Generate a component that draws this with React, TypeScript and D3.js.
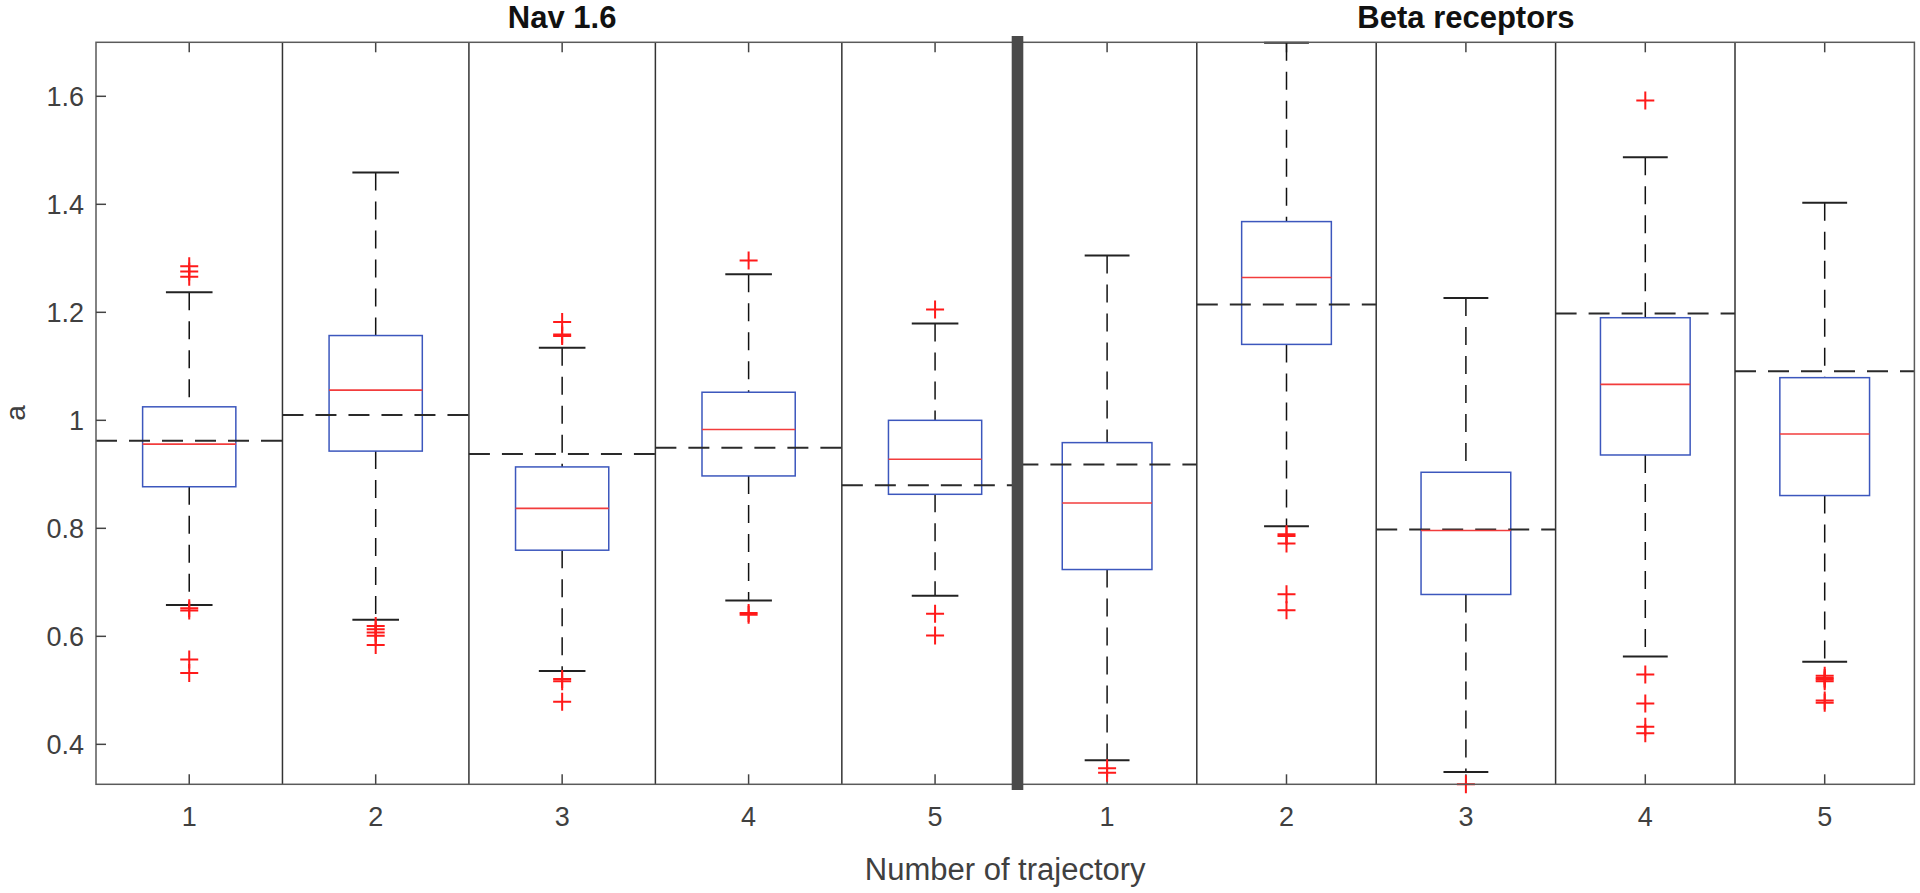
import React from "react";
import * as d3 from "d3";

const categories = ["1", "2", "3", "4", "5"];
const yTicks = [0.4, 0.6, 0.8, 1.0, 1.2, 1.4, 1.6];
const yTickLabels = ["0.4", "0.6", "0.8", "1", "1.2", "1.4", "1.6"];

// Nav 1.6
const navQ1 = [0.877, 0.943, 0.7595, 0.897, 0.863];
const navMedian = [0.956, 1.056, 0.837, 0.983, 0.928];
const navQ3 = [1.025, 1.157, 0.9137, 1.052, 1.0];
const navWhiskerLow = [0.658, 0.6306, 0.5356, 0.6664, 0.675];
const navWhiskerHigh = [1.237, 1.459, 1.1345, 1.2707, 1.1795];
const navRef = [0.962, 1.0098, 0.9377, 0.9494, 0.8797];
const navOutliers = [
  [1.2854, 1.2756, 1.2658, 0.652, 0.648, 0.557, 0.532],
  [0.619, 0.613, 0.607, 0.601, 0.584],
  [1.182, 1.159, 1.156, 0.521, 0.517, 0.479],
  [1.296, 0.643, 0.640],
  [1.2054, 0.6417, 0.6016],
];

// Beta receptors
const betaQ1 = [0.7237, 1.1406, 0.6775, 0.9358, 0.8607];
const betaMedian = [0.847, 1.2646, 0.796, 1.0666, 0.9747];
const betaQ3 = [0.9587, 1.368, 0.9038, 1.19, 1.079];
const betaWhiskerLow = [0.3704, 0.8039, 0.3487, 0.5627, 0.5528];
const betaWhiskerHigh = [1.305, 1.699, 1.2263, 1.487, 1.4028];
const betaRef = [0.918, 1.2146, 0.7977, 1.198, 1.0907];
const betaOutliers = [
  [0.3556, 0.3475],
  [0.789, 0.786, 0.772, 0.678, 0.6485],
  [0.326],
  [1.592, 0.5295, 0.4758, 0.4326, 0.4204],
  [0.527, 0.523, 0.52, 0.517, 0.481, 0.477],
];

const W = 1920;
const H = 893;
const left = 96;
const right = 1914.4;
const top = 42.3;
const bottom = 784.3;
const split = 1017.4;
const navRight = 1028.3;

const FONT = "'Liberation Sans', Arial, Helvetica, sans-serif";

const y = d3.scaleLinear().domain([0.326, 1.7]).range([bottom, top]);
const xNav = d3.scaleBand<string>().domain(categories).range([left, navRight]).padding(0);
const xBeta = d3.scaleBand<string>().domain(categories).range([split, right]).padding(0);

type PanelProps = {
  x: d3.ScaleBand<string>;
  q1: number[];
  med: number[];
  q3: number[];
  wl: number[];
  wh: number[];
  ref: number[];
  outl: number[][];
  clipId: string;
};

function Panel({ x, q1, med, q3, wl, wh, ref, outl, clipId }: PanelProps) {
  const bw = x.bandwidth();
  const boxW = bw * 0.5;
  const capW = bw * 0.25;
  const ms = 9;
  return (
    <g clipPath={`url(#${clipId})`}>
      {categories.map((c, i) => {
        const x0 = x(c)!;
        const cx = x0 + bw / 2;
        return (
          <g key={c}>
            {i > 0 && (
              <line x1={x0} x2={x0} y1={top} y2={bottom} stroke="#333" strokeWidth={1.5} />
            )}
            <line x1={cx} x2={cx} y1={top} y2={top + 10} stroke="#444" strokeWidth={1.5} />
            <line x1={cx} x2={cx} y1={bottom} y2={bottom - 10} stroke="#444" strokeWidth={1.5} />
            <line x1={cx} x2={cx} y1={y(wh[i])} y2={y(q3[i])} stroke="#111" strokeWidth={1.5} strokeDasharray="18,11" />
            <line x1={cx} x2={cx} y1={y(q1[i])} y2={y(wl[i])} stroke="#111" strokeWidth={1.5} strokeDasharray="18,11" />
            <line x1={cx - capW / 2} x2={cx + capW / 2} y1={y(wh[i])} y2={y(wh[i])} stroke="#222" strokeWidth={2} />
            <line x1={cx - capW / 2} x2={cx + capW / 2} y1={y(wl[i])} y2={y(wl[i])} stroke="#222" strokeWidth={2} />
            <rect x={cx - boxW / 2} y={y(q3[i])} width={boxW} height={y(q1[i]) - y(q3[i])} fill="none" stroke="#3c57bd" strokeWidth={1.5} />
            <line x1={x0} x2={x0 + bw} y1={y(ref[i])} y2={y(ref[i])} stroke="#2a2a2a" strokeWidth={2} strokeDasharray="21,12" />
            <line x1={cx - boxW / 2} x2={cx + boxW / 2} y1={y(med[i])} y2={y(med[i])} stroke="#f23c3c" strokeWidth={1.6} />
            {outl[i].map((v, k) => (
              <path
                key={k}
                d={`M${cx - ms},${y(v)}H${cx + ms}M${cx},${y(v) - ms}V${y(v) + ms}`}
                stroke="#ff1a1a"
                strokeWidth={2}
                fill="none"
              />
            ))}
          </g>
        );
      })}
    </g>
  );
}

export default function App() {
  return (
    <svg
      width={W}
      height={H}
      viewBox={`0 0 ${W} ${H}`}
      style={{ position: "absolute", left: 0, top: 0, background: "#fff" }}
    >
      <defs>
        <clipPath id="clipNav">
          <rect x={left - 2} y={0} width={split - left + 2} height={H} />
        </clipPath>
        <clipPath id="clipBeta">
          <rect x={split} y={0} width={W - split} height={H} />
        </clipPath>
      </defs>
      <rect x={0} y={0} width={W} height={H} fill="#fff" />

      <Panel x={xNav} q1={navQ1} med={navMedian} q3={navQ3} wl={navWhiskerLow} wh={navWhiskerHigh} ref={navRef} outl={navOutliers} clipId="clipNav" />
      <Panel x={xBeta} q1={betaQ1} med={betaMedian} q3={betaQ3} wl={betaWhiskerLow} wh={betaWhiskerHigh} ref={betaRef} outl={betaOutliers} clipId="clipBeta" />

      <rect x={left} y={top} width={right - left} height={bottom - top} fill="none" stroke="#5a5a5a" strokeWidth={1.5} />

      {yTicks.map((t, i) => (
        <g key={t}>
          <line x1={left} x2={left + 10} y1={y(t)} y2={y(t)} stroke="#444" strokeWidth={1.5} />
          <text x={84} y={y(t)} dy="0.36em" textAnchor="end" fontFamily={FONT} fontSize={27} fill="#404040">
            {yTickLabels[i]}
          </text>
        </g>
      ))}

      {categories.map((c) => (
        <text key={"n" + c} x={xNav(c)! + xNav.bandwidth() / 2} y={826} textAnchor="middle" fontFamily={FONT} fontSize={27} fill="#404040">
          {c}
        </text>
      ))}
      {categories.map((c) => (
        <text key={"b" + c} x={xBeta(c)! + xBeta.bandwidth() / 2} y={826} textAnchor="middle" fontFamily={FONT} fontSize={27} fill="#404040">
          {c}
        </text>
      ))}

      <rect x={1011.7} y={36} width={11.6} height={754} fill="#4a4a4a" />

      <text x={(left + navRight) / 2} y={28} textAnchor="middle" fontFamily={FONT} fontSize={31} fontWeight="bold" fill="#111">
        Nav 1.6
      </text>
      <text x={(split + right) / 2} y={28} textAnchor="middle" fontFamily={FONT} fontSize={31} fontWeight="bold" fill="#111">
        Beta receptors
      </text>

      <text x={(left + right) / 2} y={880} textAnchor="middle" fontFamily={FONT} fontSize={31} fill="#404040">
        Number of trajectory
      </text>
      <text transform={`translate(25, 413) rotate(-90)`} textAnchor="middle" fontFamily={FONT} fontSize={28} fill="#404040">
        a
      </text>
    </svg>
  );
}
